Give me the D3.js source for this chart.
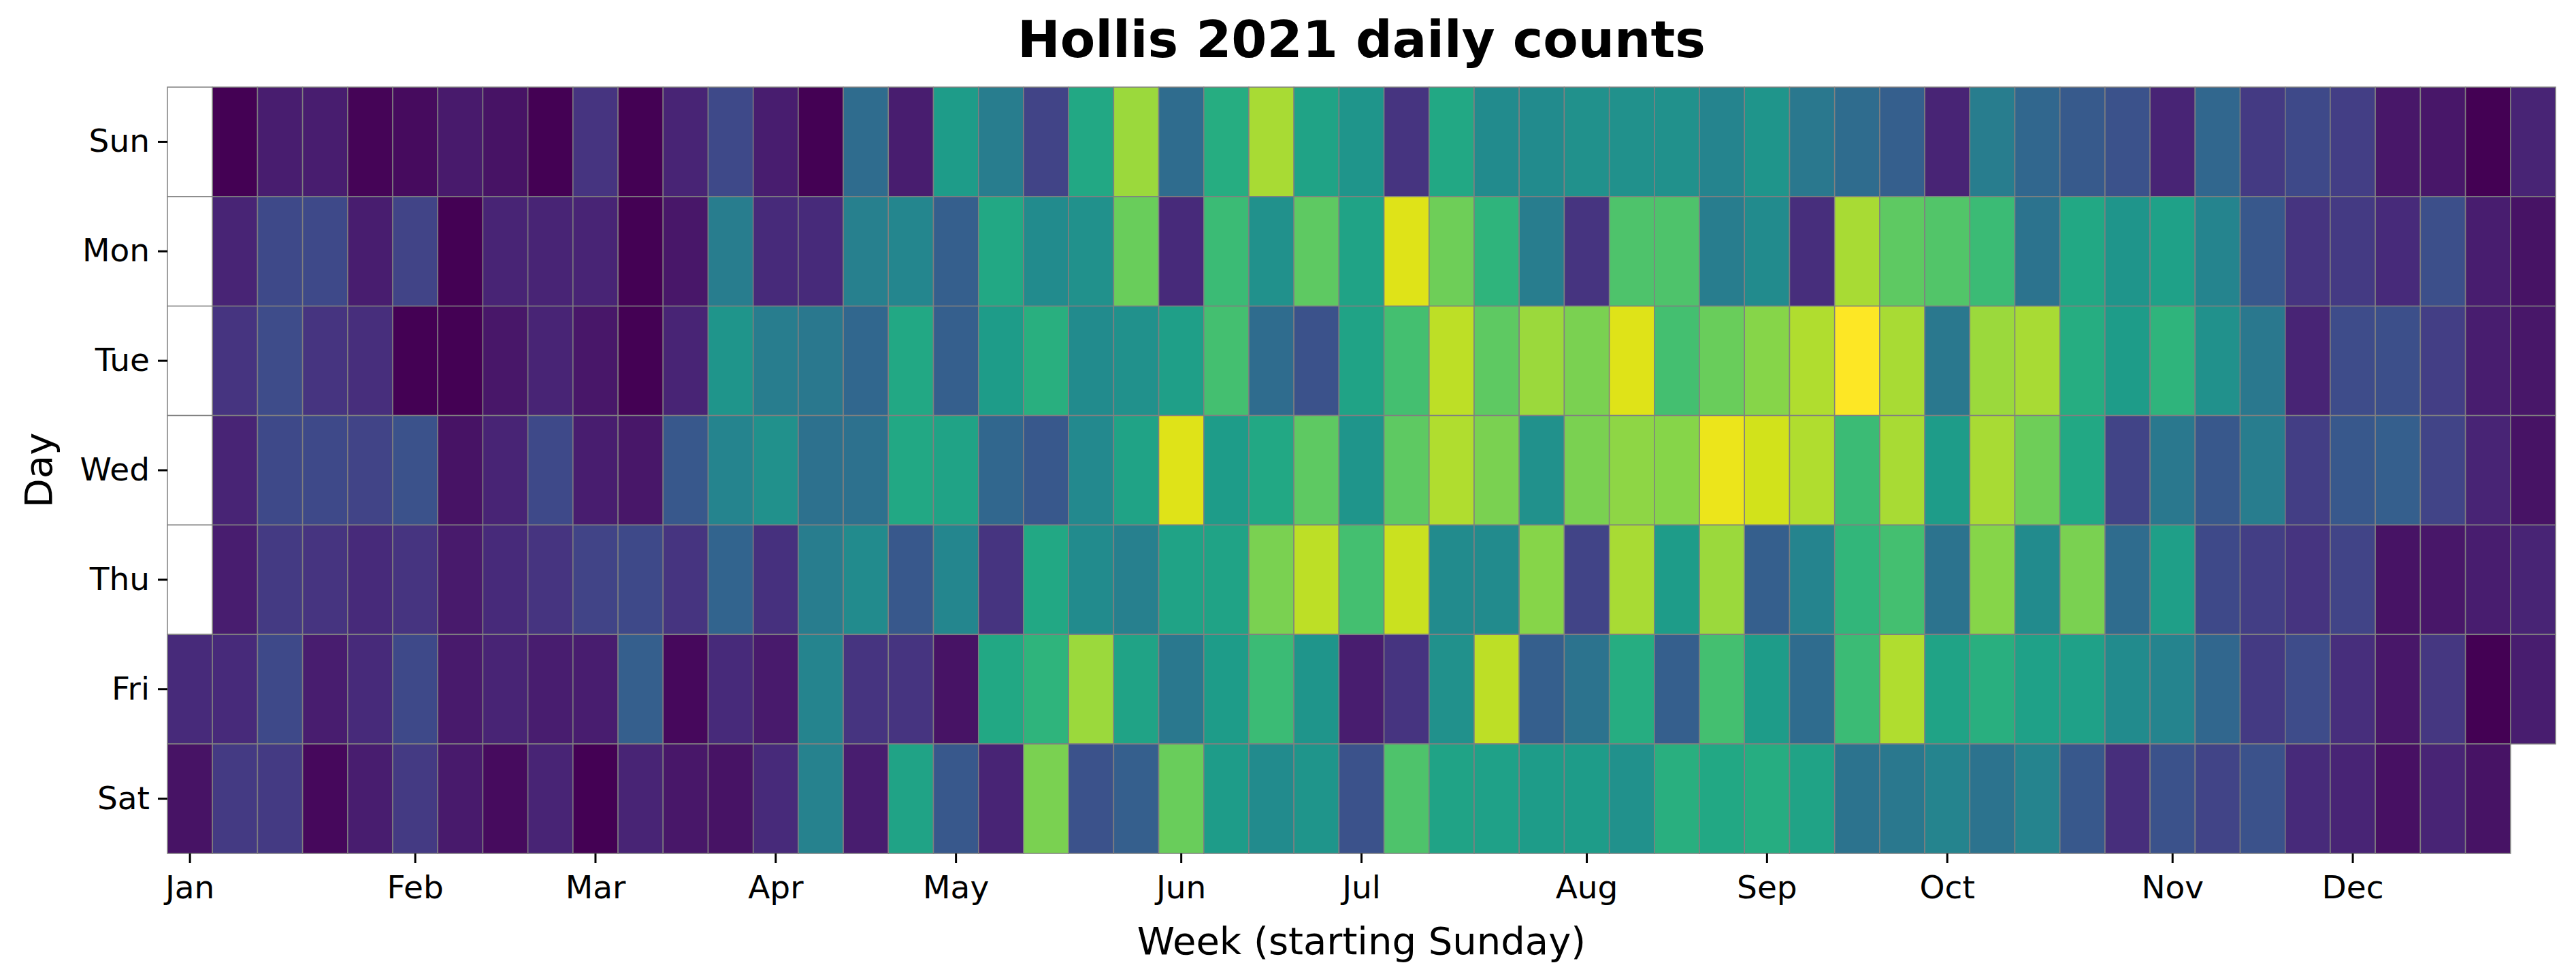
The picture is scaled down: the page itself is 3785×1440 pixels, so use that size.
<!DOCTYPE html>
<html>
<head>
<meta charset="utf-8">
<script src="https://cdn.jsdelivr.net/npm/d3@7"></script>
<style>
  body { margin: 0; background: #fff; }
  text { font-family: "DejaVu Sans", sans-serif; fill: #000; }
</style>
</head>
<body>
<svg id="chart" width="3785" height="1440"></svg>
<script>
const days = ["Sun", "Mon", "Tue", "Wed", "Thu", "Fri", "Sat"];
const monthLabels = ["Jan", "Feb", "Mar", "Apr", "May", "Jun", "Jul", "Aug", "Sep", "Oct", "Nov", "Dec"];
// one row per week (starting Sunday), values Sun..Sat, null = outside 2021
const weeks = [
  [null, null, null, null, null, 12, 5],
  [0, 10, 15, 10, 8, 12, 17],
  [8, 22, 23, 22, 17, 22, 17],
  [8, 22, 15, 22, 15, 8, 2],
  [1, 8, 13, 20, 12, 12, 8],
  [3, 20, 0, 25, 15, 22, 17],
  [7, 0, 0, 5, 7, 7, 7],
  [5, 10, 6, 10, 12, 10, 3],
  [0, 10, 10, 22, 15, 8, 10],
  [15, 10, 6, 8, 20, 8, 0],
  [0, 0, 0, 6, 22, 30, 10],
  [10, 6, 10, 27, 15, 2, 6],
  [22, 42, 52, 45, 32, 12, 5],
  [8, 12, 42, 50, 14, 7, 12],
  [0, 12, 40, 37, 42, 45, 44],
  [35, 43, 33, 37, 48, 15, 8],
  [8, 46, 60, 60, 27, 15, 58],
  [55, 30, 30, 58, 46, 5, 27],
  [42, 60, 55, 33, 15, 60, 10],
  [20, 48, 63, 27, 60, 65, 80],
  [60, 50, 48, 47, 48, 85, 25],
  [85, 77, 50, 58, 43, 58, 30],
  [35, 12, 56, 95, 58, 40, 77],
  [62, 68, 70, 55, 58, 55, 55],
  [87, 50, 35, 60, 80, 68, 48],
  [58, 75, 25, 75, 90, 52, 52],
  [52, 58, 58, 52, 70, 8, 25],
  [15, 95, 70, 75, 92, 15, 72],
  [60, 78, 90, 88, 48, 50, 58],
  [48, 65, 75, 80, 48, 90, 57],
  [48, 42, 85, 50, 82, 30, 55],
  [50, 15, 80, 80, 20, 38, 55],
  [50, 72, 95, 83, 87, 62, 50],
  [50, 72, 70, 82, 55, 30, 63],
  [45, 42, 77, 97, 85, 70, 60],
  [52, 48, 82, 93, 30, 55, 62],
  [40, 13, 88, 88, 45, 35, 58],
  [35, 87, 100, 68, 66, 68, 38],
  [30, 75, 87, 87, 70, 88, 40],
  [10, 73, 40, 55, 38, 58, 45],
  [42, 68, 85, 87, 82, 63, 38],
  [33, 38, 87, 78, 48, 57, 45],
  [28, 60, 62, 60, 80, 57, 27],
  [25, 52, 55, 20, 35, 48, 13],
  [10, 57, 65, 40, 56, 45, 25],
  [33, 45, 50, 27, 22, 33, 20],
  [17, 27, 40, 42, 18, 17, 25],
  [22, 15, 10, 18, 15, 23, 12],
  [18, 17, 23, 27, 20, 13, 10],
  [6, 12, 24, 30, 5, 6, 4],
  [6, 24, 18, 20, 6, 16, 10],
  [0, 8, 8, 10, 8, 0, 5],
  [10, 5, 6, 5, 10, 8, null]
];

const svg = d3.select("#chart");
const margin = { left: 246, right: 30, top: 128, bottom: 186 };
const width = 3785 - margin.left - margin.right;
const height = 1440 - margin.top - margin.bottom;

const chart = svg.append("g").attr("transform", `translate(${margin.left}, ${margin.top})`);

const xScale = d3.scaleBand().domain(d3.range(weeks.length)).range([0, width]);
const yScale = d3.scaleBand().domain(days).range([0, height]);
const color = d3.scaleSequential(d3.interpolateViridis)
  .domain(d3.extent(weeks.flat().filter((v) => v !== null)));

const cells = [];
weeks.forEach((w, i) => w.forEach((v, j) => {
  // leading empty days keep a white, outlined cell; the trailing one is left blank
  if (v !== null || i === 0) cells.push({ week: i, day: days[j], value: v });
}));

chart.selectAll(".cell")
  .data(cells)
  .enter()
  .append("rect")
  .attr("class", "cell")
  .attr("x", (d) => xScale(d.week))
  .attr("y", (d) => yScale(d.day))
  .attr("width", xScale.bandwidth())
  .attr("height", yScale.bandwidth())
  .attr("fill", (d) => (d.value === null ? "#fff" : color(d.value)))
  .attr("stroke", "#808080")
  .attr("stroke-width", 1.5);

// month ticks at the week holding the 1st
const yearStart = new Date(2021, 0, 1);
const monthWeek = monthLabels.map((m, i) =>
  d3.timeWeek.count(d3.timeWeek.floor(yearStart), new Date(2021, i, 1)));

const xAxis = chart.append("g")
  .attr("transform", `translate(0, ${height})`)
  .call(d3.axisBottom(xScale)
    .tickValues(monthWeek)
    .tickFormat((d, i) => monthLabels[i])
    .tickSize(14).tickPadding(10));

const yAxis = chart.append("g")
  .call(d3.axisLeft(yScale).tickSize(14).tickPadding(12));

[xAxis, yAxis].forEach((a) => {
  a.select(".domain").remove();
  a.selectAll(".tick line").attr("stroke", "#000").attr("stroke-width", 3);
  a.selectAll(".tick text").style("font-size", "47px").style("font-family", "DejaVu Sans");
});
xAxis.selectAll(".tick text").attr("dy", "0.9em");

svg.append("text")
  .attr("x", margin.left + width / 2)
  .attr("y", 84)
  .attr("text-anchor", "middle")
  .style("font-size", "75px")
  .style("font-weight", "bold")
  .text("Hollis 2021 daily counts");

svg.append("text")
  .attr("x", margin.left + width / 2)
  .attr("y", 1402)
  .attr("text-anchor", "middle")
  .style("font-size", "56px")
  .text("Week (starting Sunday)");

svg.append("text")
  .attr("transform", `translate(76, ${margin.top + height / 2}) rotate(-90)`)
  .attr("text-anchor", "middle")
  .style("font-size", "56px")
  .text("Day");
</script>
</body>
</html>
